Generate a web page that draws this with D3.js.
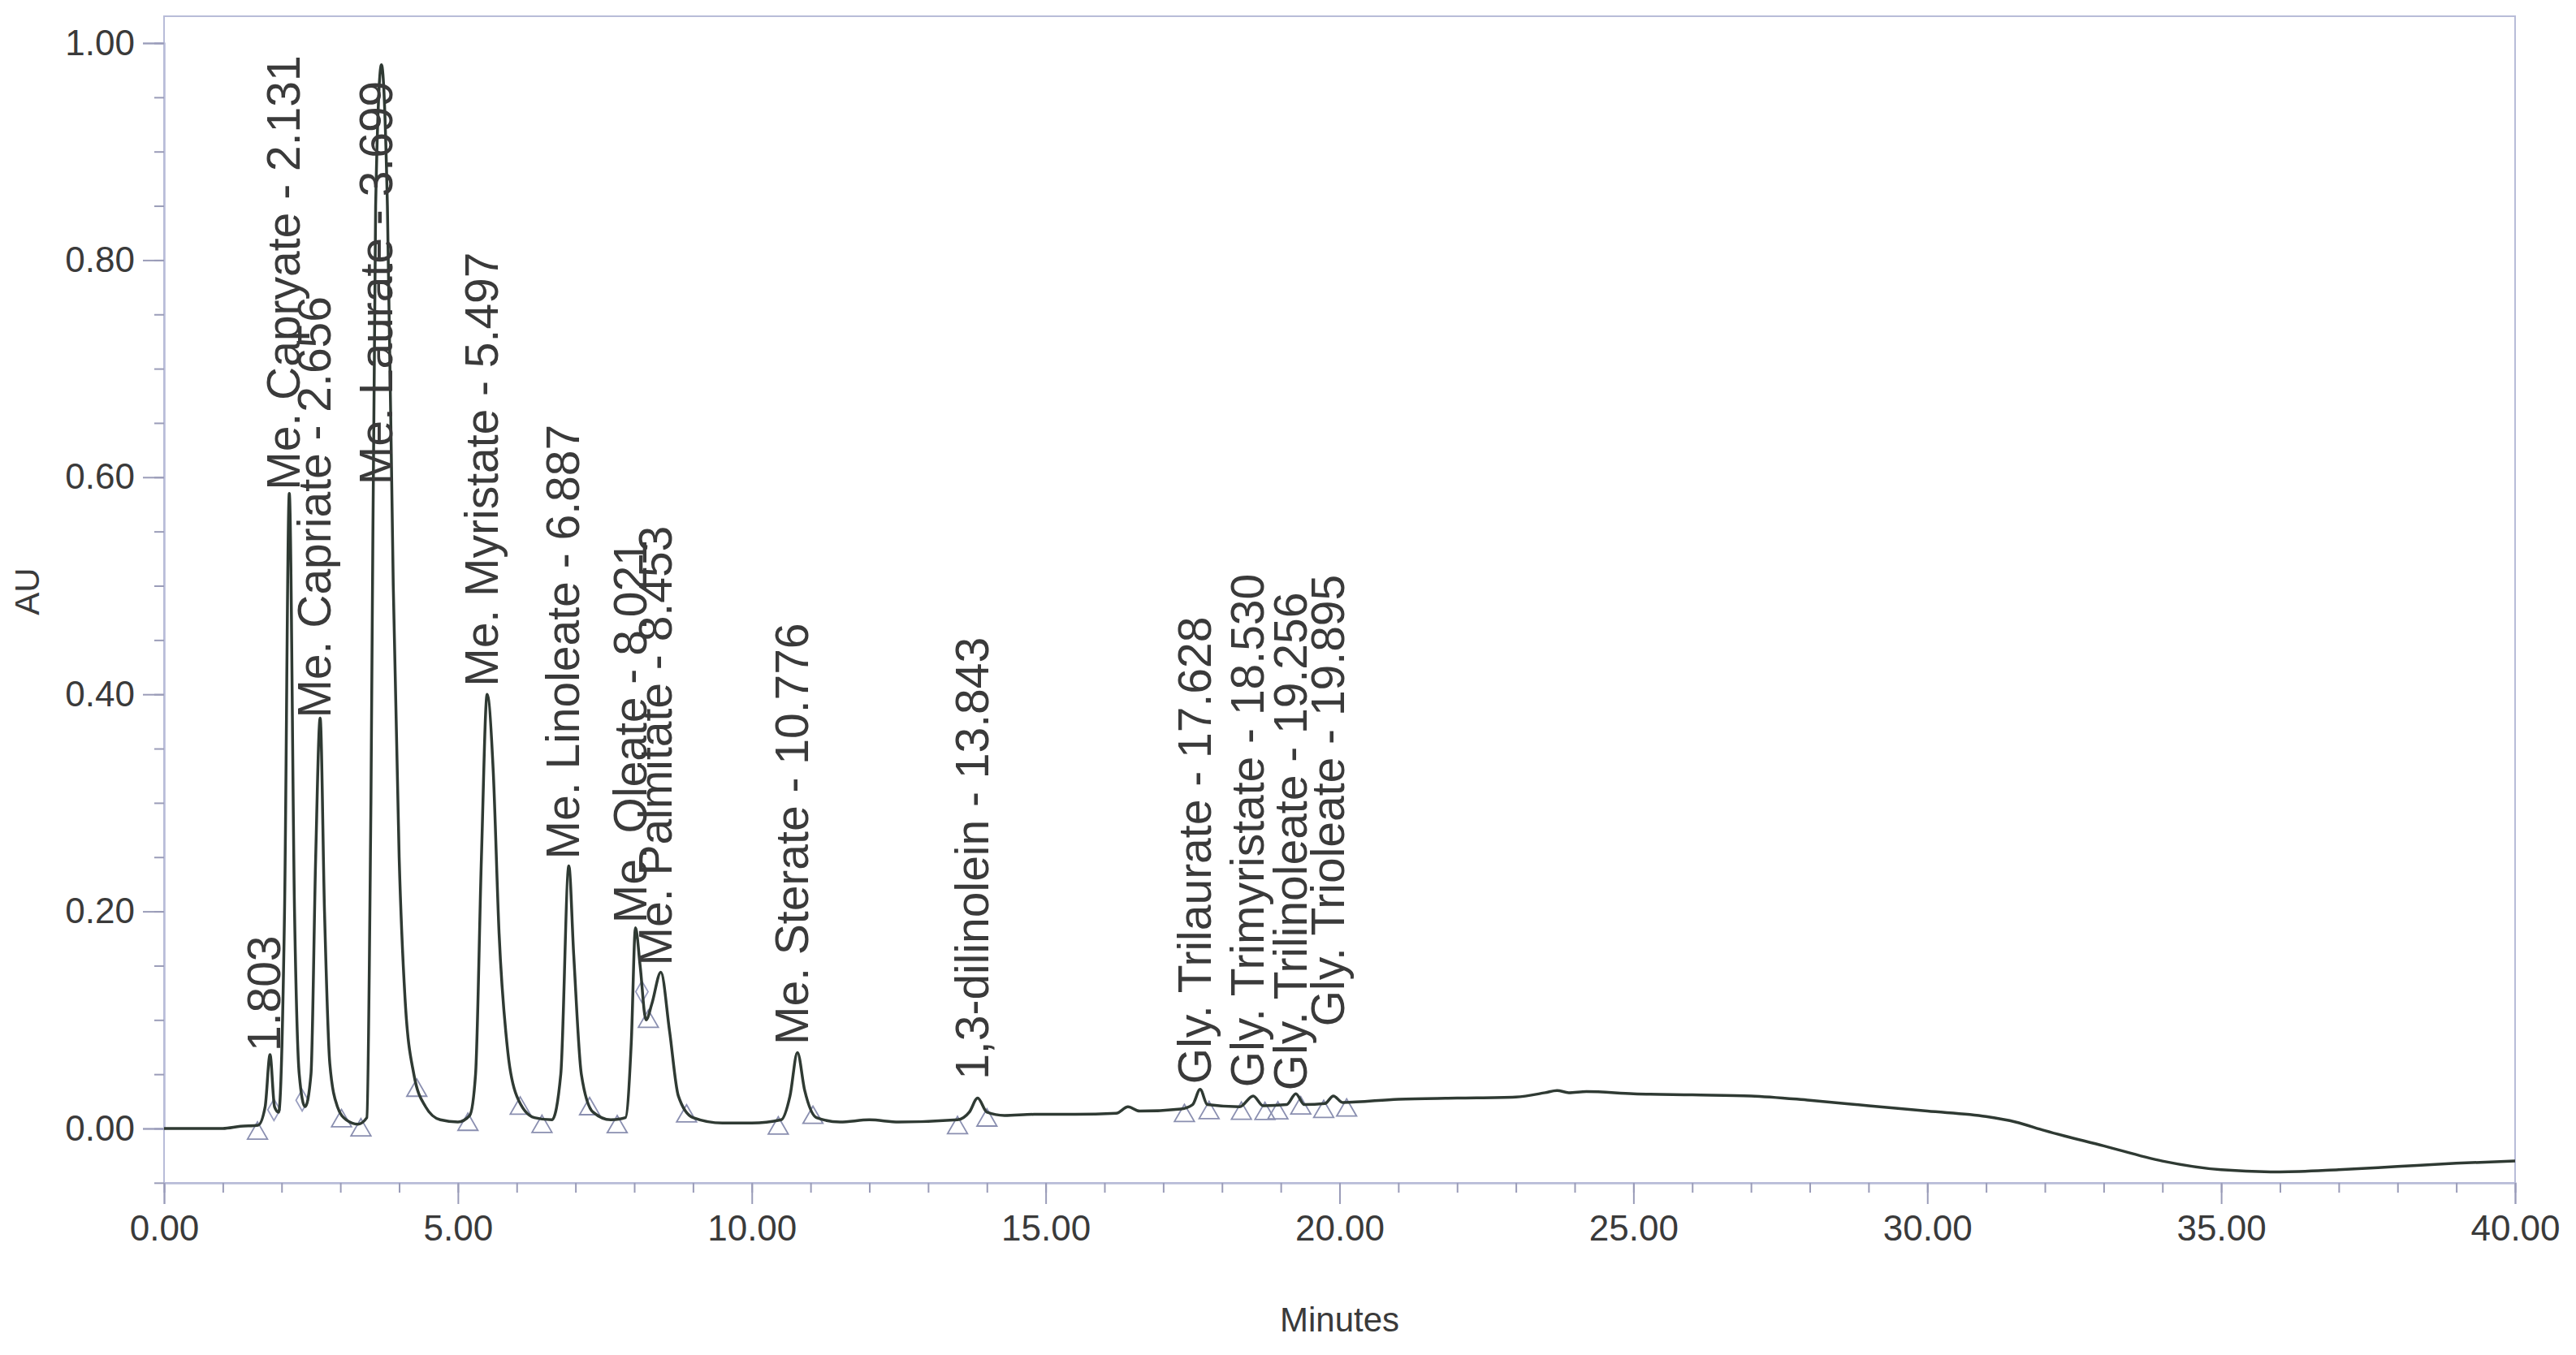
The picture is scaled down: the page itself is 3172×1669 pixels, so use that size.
<!DOCTYPE html>
<html><head><meta charset="utf-8">
<script src="https://cdn.jsdelivr.net/npm/d3@7"></script>
<style>body{margin:0;background:#fff}text{font-family:"Liberation Sans",Arial,sans-serif;fill:#3a3a3a}</style>
</head><body><svg id="c" width="3172" height="1669"></svg>
<script>
const traceT=[0,1.0,1.3,1.6,1.72,1.803,1.88,1.95,2.05,2.131,2.22,2.3,2.4,2.5,2.58,2.656,2.73,2.82,2.95,3.1,3.3,3.45,3.52,3.6,3.699,3.8,3.9,4.0,4.1,4.25,4.45,4.7,5.0,5.2,5.3,5.4,5.497,5.6,5.7,5.85,6.0,6.3,6.6,6.75,6.887,6.97,7.1,7.3,7.6,7.85,7.95,8.021,8.1,8.2,8.3,8.453,8.6,8.75,9.0,9.5,10.0,10.5,10.65,10.776,10.9,11.1,11.5,12,12.5,13.5,13.7,13.843,14.0,14.3,14.8,15.5,16.2,16.4,16.6,17.3,17.5,17.628,17.75,18.3,18.53,18.7,19.1,19.256,19.4,19.75,19.895,20.05,21,22,23,23.5,23.7,23.9,24.2,25,26,27,28,29,30,31,31.5,32,33,34,35,36,37,38,39,40];
const traceAU=[0,0,0.002,0.003,0.02,0.068,0.02,0.015,0.2,0.585,0.2,0.05,0.02,0.05,0.25,0.378,0.2,0.06,0.02,0.008,0.004,0.01,0.3,0.85,0.98,0.85,0.5,0.25,0.12,0.05,0.02,0.008,0.006,0.012,0.05,0.25,0.40,0.33,0.18,0.07,0.03,0.01,0.008,0.05,0.242,0.16,0.05,0.015,0.008,0.01,0.08,0.185,0.15,0.1,0.115,0.144,0.09,0.03,0.01,0.005,0.005,0.008,0.03,0.07,0.035,0.01,0.006,0.008,0.006,0.008,0.015,0.028,0.015,0.012,0.013,0.013,0.014,0.02,0.016,0.018,0.022,0.036,0.022,0.02,0.03,0.021,0.022,0.032,0.022,0.023,0.03,0.024,0.027,0.028,0.029,0.033,0.035,0.033,0.034,0.032,0.031,0.03,0.026,0.021,0.016,0.011,0.006,-0.002,-0.016,-0.03,-0.038,-0.04,-0.038,-0.035,-0.032,-0.03];
const peakNames=["1.803","Me. Capryate - 2.131","Me. Capriate - 2.656","Me. Laurate - 3.699","Me. Myristate - 5.497","Me. Linoleate - 6.887","Me. Oleate - 8.021","Me. Palmitate - 8.453","Me. Sterate - 10.776","1,3-dilinolein - 13.843","Gly.  Trilaurate - 17.628","Gly.  Trimyristate - 18.530","Gly.  Trilinoleate - 19.256","Gly.  Trioleate - 19.895"];
const peakRT=[1.803,2.131,2.656,3.699,5.497,6.887,8.021,8.453,10.776,13.843,17.628,18.530,19.256,19.895];
const labelAU=[0.071,0.588,0.378,0.593,0.407,0.248,0.189,0.15,0.077,0.045,0.041,0.038,0.035,0.094];
const markerT=[1.59,3.02,3.35,4.30,5.17,6.06,6.43,7.24,7.71,8.24,8.89,10.45,11.04,13.5,14.0,17.36,17.78,18.33,18.73,18.95,19.34,19.73,20.12];
const diamondT=[1.87,2.35,8.13];
const xTicks=[0,5,10,15,20,25,30,35,40];
const yTicks=[0,0.2,0.4,0.6,0.8,1.0];

const svg=d3.select("#c");
const L=202,R=3097,T=20,B=1457;
const x=d3.scaleLinear().domain([0,40]).range([L,R]);
const y=d3.scaleLinear().domain([0,1]).range([1390,53]);
svg.append("rect").attr("x",L).attr("y",T).attr("width",R-L).attr("height",B-T).attr("fill","none").attr("stroke","#b8bcd8").attr("stroke-width",2);
const xa=svg.append("g").attr("transform",`translate(0,${B})`).call(d3.axisBottom(x).tickValues(xTicks).tickFormat(d3.format(".2f")).tickSize(26).tickPadding(14));
const xm=svg.append("g").attr("transform",`translate(0,${B})`).call(d3.axisBottom(x).tickValues(d3.range(0,41,1)).tickFormat("").tickSize(12));
const ya=svg.append("g").attr("transform",`translate(${L},0)`).call(d3.axisLeft(y).tickValues(yTicks).tickFormat(d3.format(".2f")).tickSize(26).tickPadding(10));
const ym=svg.append("g").attr("transform",`translate(${L},0)`).call(d3.axisLeft(y).tickValues(d3.range(-0.05,1.001,0.05)).tickFormat("").tickSize(12));
[xa,xm,ya,ym].forEach(g=>{g.select(".domain").attr("stroke","#b8bcd8").attr("stroke-width",2);g.selectAll("line").attr("stroke","#9a9cb8").attr("stroke-width",2);g.selectAll("text").style("font-size","44px").attr("fill","#3a3a3a");});
svg.append("text").attr("x",(L+R)/2).attr("y",1640).attr("text-anchor","middle").style("font-size","42px").text("Minutes");
svg.append("text").attr("transform",`translate(48,${(T+B)/2-10}) rotate(-90)`).attr("text-anchor","middle").style("font-size","42px").text("AU");
const pts=traceT.map((t,i)=>[t,traceAU[i]]);
const interp=t=>{for(let i=1;i<traceT.length;i++){if(t<=traceT[i]){const f=(t-traceT[i-1])/(traceT[i]-traceT[i-1]);return traceAU[i-1]+f*(traceAU[i]-traceAU[i-1]);}}return 0;};
const tri=d3.symbol().type(d3.symbolTriangle).size(260);
svg.selectAll(".tri").data(markerT).join("path").attr("d",tri).attr("transform",d=>`translate(${x(d)},${y(interp(d))+10})`).attr("fill","none").attr("stroke","#8a8fb0").attr("stroke-width",1.8);
const dia=d3.symbol().type(d3.symbolDiamond).size(200);
svg.selectAll(".dia").data(diamondT).join("path").attr("d",dia).attr("transform",d=>`translate(${x(d)},${y(interp(d))+12})`).attr("fill","none").attr("stroke","#9a9fc0").attr("stroke-width",1.8);
svg.append("path").datum(pts).attr("d",d3.line().x(d=>x(d[0])).y(d=>y(d[1])).curve(d3.curveMonotoneX)).attr("fill","none").attr("stroke","#2f3a33").attr("stroke-width",3.5);
svg.selectAll(".lbl").data(peakNames).join("text").attr("transform",(d,i)=>`translate(${x(peakRT[i])+13},${y(labelAU[i])}) rotate(-90)`).style("font-size","57px").text(d=>d);
</script></body></html>
